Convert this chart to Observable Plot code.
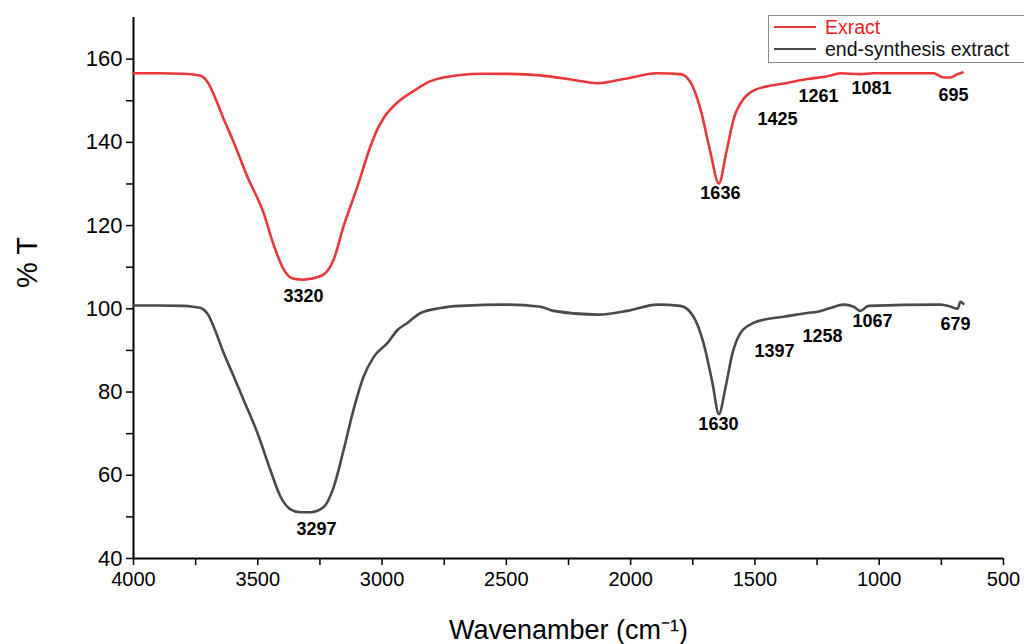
<!DOCTYPE html>
<html>
<head>
<meta charset="utf-8">
<script src="https://cdn.jsdelivr.net/npm/d3@7"></script>
<script src="https://cdn.jsdelivr.net/npm/@observablehq/plot@0.6"></script>
<style>
  html, body { margin: 0; padding: 0; background: #fff; overflow: hidden; }
  #wrap { position: relative; width: 1024px; height: 644px; }
  #legend { position: absolute; left: 768px; top: 15px; width: 270px; height: 46px;
            border: 1px solid #8a8a8a; background: #fff; font-family: "Liberation Sans", Arial, sans-serif; font-size: 19.5px; }
  .row { position: absolute; left: 0; height: 22px; display: flex; align-items: center; white-space: nowrap; }
  .sw { width: 42px; height: 0; border-top: 2.5px solid; margin-left: 5px; margin-right: 9px; }
</style>
</head>
<body>
<div id="wrap">
  <div id="chart"></div>
  <div id="legend">
    <div class="row" style="top:0px"><div class="sw" style="border-color:#e8383c"></div><span style="color:#ee1c24">Exract</span></div>
    <div class="row" style="top:22px"><div class="sw" style="border-color:#4a4a4a"></div><span style="color:#111">end-synthesis extract</span></div>
  </div>
</div>
<script>
// Series: Extract
const extractWave = [4000,3900,3800,3760,3730,3700,3670,3640,3600,3543,3477,3437,3397,3356,3320,3288,3236,3195,3155,3099,3047,3020,2994,2938,2874,2805,2685,2600,2450,2363,2230,2133,2029,1892,1800,1759,1719,1679,1645,1615,1586,1546,1518,1449,1397,1289,1208,1156,1075,1023,782,741,713,685,665];
const extractT    = [156.6,156.6,156.5,156.3,156.0,154.3,150.5,146.0,140.5,131.9,123.1,115.5,109.6,107.2,107.0,107.2,108.2,111.8,119.8,129.4,139.0,143.0,145.8,149.6,152.3,154.7,156.2,156.5,156.4,156.1,155.0,154.2,155.2,156.6,156.4,154.4,148.0,137.6,130.1,137.6,145.5,150.4,152.0,153.5,154.0,155.2,155.9,156.6,156.4,156.6,156.6,155.6,155.6,156.4,156.8];

// Series: end-synthesis extract
const endWave = [4000,3900,3800,3760,3730,3700,3670,3640,3600,3557,3501,3449,3409,3368,3330,3288,3236,3195,3155,3115,3075,3034,2978,2938,2898,2845,2765,2685,2500,2363,2310,2133,2013,1892,1800,1747,1707,1671,1645,1618,1590,1558,1506,1425,1385,1289,1248,1196,1144,1103,1075,1043,753,713,685,673,661];
const endT    = [100.8,100.8,100.7,100.5,100.2,98.6,94.6,89.8,84.2,78.1,70.1,61.2,54.9,51.8,51.1,51.1,52.3,57.1,66.0,75.7,83.6,88.4,91.8,94.9,96.6,99.0,100.2,100.7,101.0,100.5,99.5,98.6,99.5,101.0,100.7,98.1,91.8,82.2,74.7,81.2,89.4,94.2,96.6,97.8,98.1,99.0,99.3,100.2,101.0,100.5,99.5,100.7,101.0,100.5,100.0,101.7,101.2];

// Peak annotations
const peakLabels = ["3320","1636","1425","1261","1081","695","3297","1630","1397","1258","1067","679"];
const peakLabelX = [3316,1639,1409,1244,1031,701,3264,1647,1421,1228,1027,693];
const peakLabelY = [103.1,127.7,145.5,151.1,153.0,151.3,47.0,72.3,89.9,93.5,97.1,96.4];

// Axis ticks
const xTicks = [4000,3750,3500,3250,3000,2750,2500,2250,2000,1750,1500,1250,1000,750,500];
const yTicks = [40,50,60,70,80,90,100,110,120,130,140,150,160];

const extract = extractWave.map((w, i) => ({w, t: extractT[i]}));
const endSyn = endWave.map((w, i) => ({w, t: endT[i]}));
const peaks = peakLabels.map((s, i) => ({s, x: peakLabelX[i], y: peakLabelY[i]}));

const chart = Plot.plot({
  width: 1024,
  height: 644,
  marginLeft: 133,
  marginRight: 21,
  marginTop: 17,
  marginBottom: 86,
  style: {fontFamily: '"Liberation Sans", Arial, sans-serif', background: "#fff", color: "#000"},
  x: {domain: [4000, 500], label: null},
  y: {domain: [40, 170], label: null},
  marks: [
    Plot.axisX({ticks: xTicks, tickFormat: d => d % 500 === 0 ? String(d) : "", tickSize: 7, tickPadding: 6, fontSize: 20, strokeWidth: 1.5}),
    Plot.axisY({ticks: yTicks, tickFormat: d => d % 20 === 0 ? String(d) : "", tickSize: 7, tickPadding: 4, fontSize: 22, strokeWidth: 1.5}),
    Plot.ruleX([4000], {stroke: "#000", strokeWidth: 2}),
    Plot.ruleY([40], {stroke: "#000", strokeWidth: 2}),
    Plot.line(extract, {x: "w", y: "t", stroke: "#e8383c", strokeWidth: 2.6, curve: "monotone-x"}),
    Plot.line(endSyn, {x: "w", y: "t", stroke: "#4a4a4a", strokeWidth: 2.6, curve: "monotone-x"}),
    Plot.text(peaks, {x: "x", y: "y", text: "s", fontSize: 18, fontWeight: "bold", fill: "#000"}),
    Plot.text(["Wavenamber (cm\u207B\u00B9)"], {frameAnchor: "bottom", dy: 80, fontSize: 27, fill: "#000", lineAnchor: "bottom"}),
    Plot.text(["% T"], {frameAnchor: "left", dx: -106, rotate: -90, fontSize: 29, fill: "#000"})
  ]
});
document.getElementById("chart").appendChild(chart);
</script>
</body>
</html>
